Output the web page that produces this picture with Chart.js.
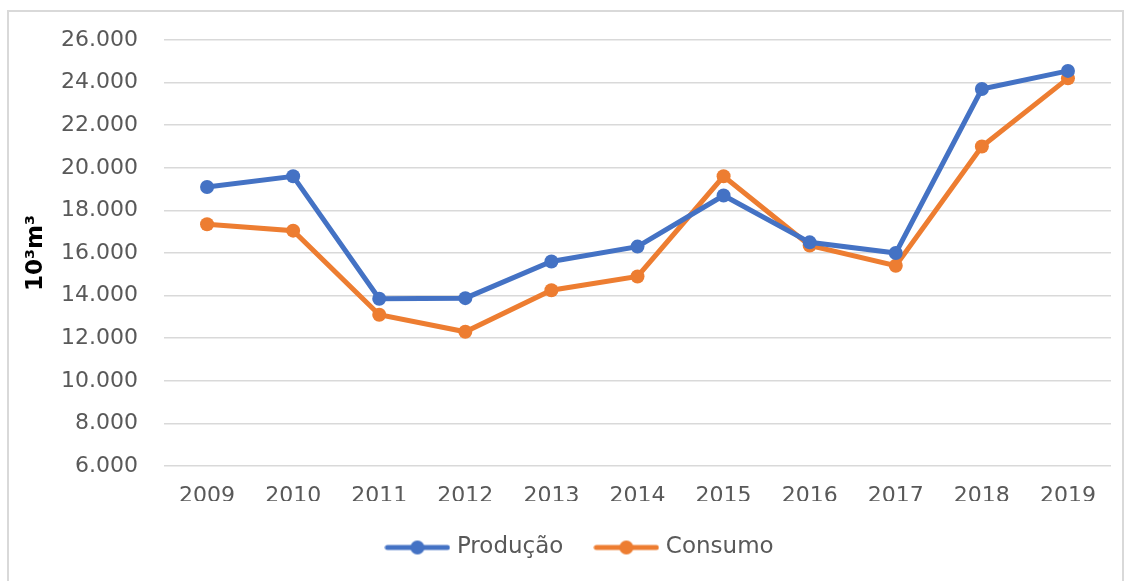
<!DOCTYPE html>
<html>
<head>
<meta charset="utf-8">
<script src="https://cdn.jsdelivr.net/npm/chart.js@4.4.1/dist/chart.umd.min.js"></script>
<style>
  html, body { margin: 0; padding: 0; background: #fff; }
  #frame { position: absolute; left: 7px; top: 10px; width: 1117px; height: 580px; border: 2px solid #d9d9d9; box-sizing: border-box; }
  #wrap { position: absolute; left: 0; top: 0; width: 1131px; height: 581px; }
</style>
</head>
<body>
<div id="frame"></div>
<div id="wrap"><canvas id="prodChart"></canvas></div>
<script>
// ─── Data ────────────────────────────────────────────────────────────────
const anos     = ['2009', '2010', '2011', '2012', '2013', '2014', '2015', '2016', '2017', '2018', '2019'];
const producao = [19100, 19600, 13850, 13880, 15600, 16300, 18700, 16500, 16000, 23700, 24550];
const consumo  = [17350, 17050, 13100, 12300, 14250, 14900, 19600, 16350, 15400, 21000, 24200];
const yMin = 6000, yMax = 26000, yStep = 2000;

const AZUL = '#4472c4';
const LARANJA = '#ed7d31';
const FONTE = "'DejaVu Sans', sans-serif";

// legend marker: line with dot, like Excel
function legendMarker(color) {
    const c = document.createElement('canvas');
    c.width = 66; c.height = 16;
    const g = c.getContext('2d');
    g.strokeStyle = color;
    g.lineWidth = 5;
    g.lineCap = 'round';
    g.beginPath();
    g.moveTo(3, 8); g.lineTo(63, 8);
    g.stroke();
    g.fillStyle = color;
    g.beginPath();
    g.arc(33, 8, 7, 0, Math.PI * 2);
    g.fill();
    return c;
}
const markers = [legendMarker(AZUL), legendMarker(LARANJA)];

// legend in Excel sits a bit right of the canvas centre
const legendShift = {
    id: 'legendShift',
    afterLayout: function (chart) {
        if (chart.legend) {
            chart.legend.left += 26;
            chart.legend.right += 26;
        }
    }
};

document.addEventListener('DOMContentLoaded', function () {
    const el = document.getElementById('prodChart');

    new Chart(el, {
        type: 'line',
        plugins: [legendShift],
        data: {
            labels: anos,
            datasets: [
                {
                    label: 'Produção',
                    data: producao,
                    borderColor: AZUL,
                    backgroundColor: AZUL,
                    borderWidth: 5,
                    pointRadius: 7,
                    pointBackgroundColor: AZUL,
                    pointBorderWidth: 0,
                    tension: 0,
                },
                {
                    label: 'Consumo',
                    data: consumo,
                    borderColor: LARANJA,
                    backgroundColor: LARANJA,
                    borderWidth: 5,
                    pointRadius: 7,
                    pointBackgroundColor: LARANJA,
                    pointBorderWidth: 0,
                    tension: 0,
                }
            ]
        },
        options: {
            responsive: true,
            maintainAspectRatio: false,
            animation: false,
            layout: { padding: { top: 40, right: 20, bottom: 12, left: 0 } },
            plugins: {
                tooltip: { enabled: false },
                legend: {
                    position: 'bottom',
                    labels: {
                        usePointStyle: true,
                        pointStyleWidth: 56,
                        boxHeight: 17,
                        padding: 35,
                        color: '#595959',
                        font: { family: FONTE, size: 23 },
                        generateLabels: function (chart) {
                            return chart.data.datasets.map(function (ds, i) {
                                return {
                                    text: ds.label,
                                    fillStyle: ds.borderColor,
                                    strokeStyle: ds.borderColor,
                                    pointStyle: markers[i],
                                    fontColor: '#595959',
                                    datasetIndex: i,
                                    hidden: false,
                                };
                            });
                        }
                    }
                }
            },
            scales: {
                y: {
                    min: yMin,
                    max: yMax,
                    border: { display: false },
                    grid: { color: '#d9d9d9', lineWidth: 1.5, drawTicks: false },
                    ticks: {
                        stepSize: yStep,
                        padding: 26,
                        color: '#595959',
                        font: { family: FONTE, size: 22 },
                        callback: function (v) { return (v / 1000) + '.000'; }
                    },
                    title: {
                        display: true,
                        text: '10³m³',
                        color: '#000',
                        padding: { top: 22, bottom: 0 },
                        font: { family: FONTE, size: 23, weight: 'bold' }
                    },
                    afterFit: function (s) { s.width = 164; }
                },
                x: {
                    border: { display: false },
                    grid: { display: false, drawTicks: false },
                    offset: true,
                    ticks: {
                        padding: 17,
                        color: '#595959',
                        font: { family: FONTE, size: 22 },
                        maxRotation: 0
                    },
                    afterFit: function (s) { s.height = 35; }
                }
            }
        }
    });
});
</script>
</body>
</html>
